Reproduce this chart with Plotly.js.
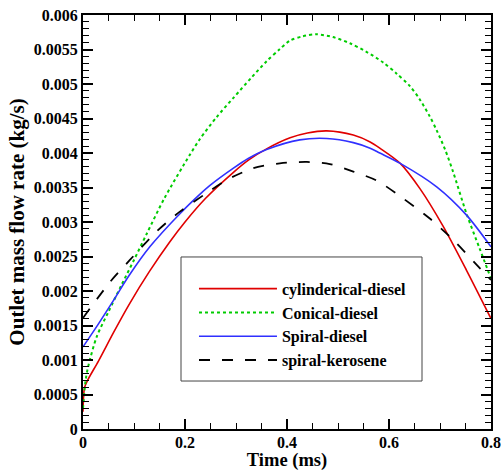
<!DOCTYPE html>
<html>
<head>
<meta charset="utf-8">
<script src="https://cdn.plot.ly/plotly-3.0.1.min.js"></script>
<style>
  html, body { margin: 0; padding: 0; background: #ffffff; }
  #chart { width: 501px; height: 471px; }
</style>
</head>
<body>
<div id="chart"></div>
<script>
// ---- Data ----
var seriesNames = ["cylinderical-diesel", "Conical-diesel", "Spiral-diesel", "spiral-kerosene"];

var cylT = [0, 0.003, 0.01, 0.03, 0.06, 0.09, 0.13, 0.17, 0.2, 0.24, 0.295, 0.325, 0.36, 0.406, 0.44, 0.478, 0.53, 0.563, 0.582, 0.622, 0.661, 0.706, 0.752, 0.8];
var cylV = [0.00025, 0.0006, 0.00072, 0.00098, 0.0014, 0.0018, 0.00228, 0.00271, 0.003, 0.00334, 0.00372, 0.0039, 0.00406, 0.00422, 0.00429, 0.00432, 0.00426, 0.00416, 0.00407, 0.00385, 0.00348, 0.00294, 0.0023, 0.0016];

var conT = [0, 0.005, 0.01, 0.027, 0.05, 0.075, 0.1, 0.125, 0.16, 0.21, 0.229, 0.262, 0.295, 0.33, 0.36, 0.385, 0.406, 0.43, 0.458, 0.49, 0.5235, 0.555, 0.589, 0.615, 0.641, 0.66, 0.68, 0.694, 0.71, 0.726, 0.752, 0.778, 0.8];
var conV = [0.0003, 0.0007, 0.0009, 0.00134, 0.0017, 0.00208, 0.00245, 0.00283, 0.00335, 0.00398, 0.0042, 0.00452, 0.0048, 0.00509, 0.00533, 0.0055, 0.00563, 0.00569, 0.00572, 0.00568, 0.00559, 0.00547, 0.00531, 0.00515, 0.00497, 0.00478, 0.00453, 0.00432, 0.00405, 0.00372, 0.00312, 0.00261, 0.00218];

var spdT = [0, 0.03, 0.0595, 0.09, 0.131, 0.19, 0.229, 0.249, 0.295, 0.324, 0.36, 0.425, 0.478, 0.53, 0.563, 0.582, 0.622, 0.6935, 0.752, 0.8];
var spdV = [0.00119, 0.00152, 0.00186, 0.00222, 0.00264, 0.00312, 0.0034, 0.00353, 0.00378, 0.00392, 0.00405, 0.00419, 0.00421, 0.00415, 0.00407, 0.004, 0.00385, 0.00351, 0.0031, 0.00264];

var skT = [0, 0.053, 0.092, 0.144, 0.19, 0.2425, 0.282, 0.334, 0.386, 0.439, 0.484, 0.53, 0.576, 0.628, 0.68, 0.726, 0.772, 0.8];
var skV = [0.00161, 0.00213, 0.00245, 0.00286, 0.00315, 0.00342, 0.00361, 0.00378, 0.00385, 0.00387, 0.00384, 0.00373, 0.0036, 0.00334, 0.00305, 0.00274, 0.00238, 0.00216];

var xTickVals = [0, 0.2, 0.4, 0.6, 0.8];
var xTickText = ["0", "0.2", "0.4", "0.6", "0.8"];
var yTickVals = [0, 0.0005, 0.001, 0.0015, 0.002, 0.0025, 0.003, 0.0035, 0.004, 0.0045, 0.005, 0.0055, 0.006];
var yTickText = ["0", "0.0005", "0.001", "0.0015", "0.002", "0.0025", "0.003", "0.0035", "0.004", "0.0045", "0.005", "0.0055", "0.006"];

// ---- Chart ----
var serif = "Liberation Serif, Times New Roman, serif";

var traces = [
  { x: cylT, y: cylV, name: seriesNames[0], mode: "lines", line: { color: "#e00000", width: 1.6, shape: "spline", smoothing: 0.8 } },
  { x: conT, y: conV, name: seriesNames[1], mode: "lines", line: { color: "#00cc00", width: 2, dash: "3px,3px", shape: "spline", smoothing: 0.8 } },
  { x: spdT, y: spdV, name: seriesNames[2], mode: "lines", line: { color: "#3030ff", width: 1.6, shape: "spline", smoothing: 0.8 } },
  { x: skT, y: skV, name: seriesNames[3], mode: "lines", line: { color: "#000000", width: 1.8, dash: "11px,12px", shape: "spline", smoothing: 0.8 } }
];

var axisCommon = {
  showgrid: false,
  zeroline: false,
  showline: true,
  linecolor: "#000000",
  linewidth: 2,
  mirror: "allticks",
  ticks: "inside",
  ticklen: 10,
  tickwidth: 2,
  tickcolor: "#000000",
  tickmode: "array",
  tickfont: { family: serif, size: 16, color: "#000000", weight: "bold" }
};

var layout = {
  width: 501,
  height: 471,
  paper_bgcolor: "#ffffff",
  plot_bgcolor: "#ffffff",
  margin: { l: 83, r: 10, t: 15, b: 42 },
  showlegend: true,
  xaxis: Object.assign({}, axisCommon, {
    range: [0, 0.8],
    tickvals: xTickVals,
    ticktext: xTickText,
    ticklabelstandoff: -2,
    minor: { dtick: 0.05, tick0: 0, ticks: "inside", ticklen: 6, tickwidth: 1, tickcolor: "#000000" },
    title: { text: "Time (ms)", font: { family: serif, size: 18.5, color: "#000000", weight: "bold" }, standoff: 2 }
  }),
  yaxis: Object.assign({}, axisCommon, {
    range: [0, 0.006],
    tickvals: yTickVals,
    ticktext: yTickText,
    minor: { dtick: 0.0001, tick0: 0, ticks: "inside", ticklen: 6, tickwidth: 1, tickcolor: "#000000" },
    title: { text: "Outlet mass flow rate (kg/s)", font: { family: serif, size: 21, color: "#000000", weight: "bold" }, standoff: 3 }
  }),
  legend: {
    x: 0.272, xanchor: "left",
    y: 0.38, yanchor: "top",
    bgcolor: "rgba(0,0,0,0)",
    borderwidth: 0,
    itemwidth: 78,
    font: { family: serif, size: 16, color: "#000000", weight: "bold" },
    tracegroupgap: 0
  },
  shapes: [
    { type: "rect", xref: "paper", yref: "paper", x0: 0.2402, x1: 0.8309, y0: 0.1159, y1: 0.4155,
      line: { color: "#444444", width: 1 }, fillcolor: "#ffffff", layer: "below" }
  ]
};

Plotly.newPlot("chart", traces, layout, { displayModeBar: false, staticPlot: true });
</script>
</body>
</html>
